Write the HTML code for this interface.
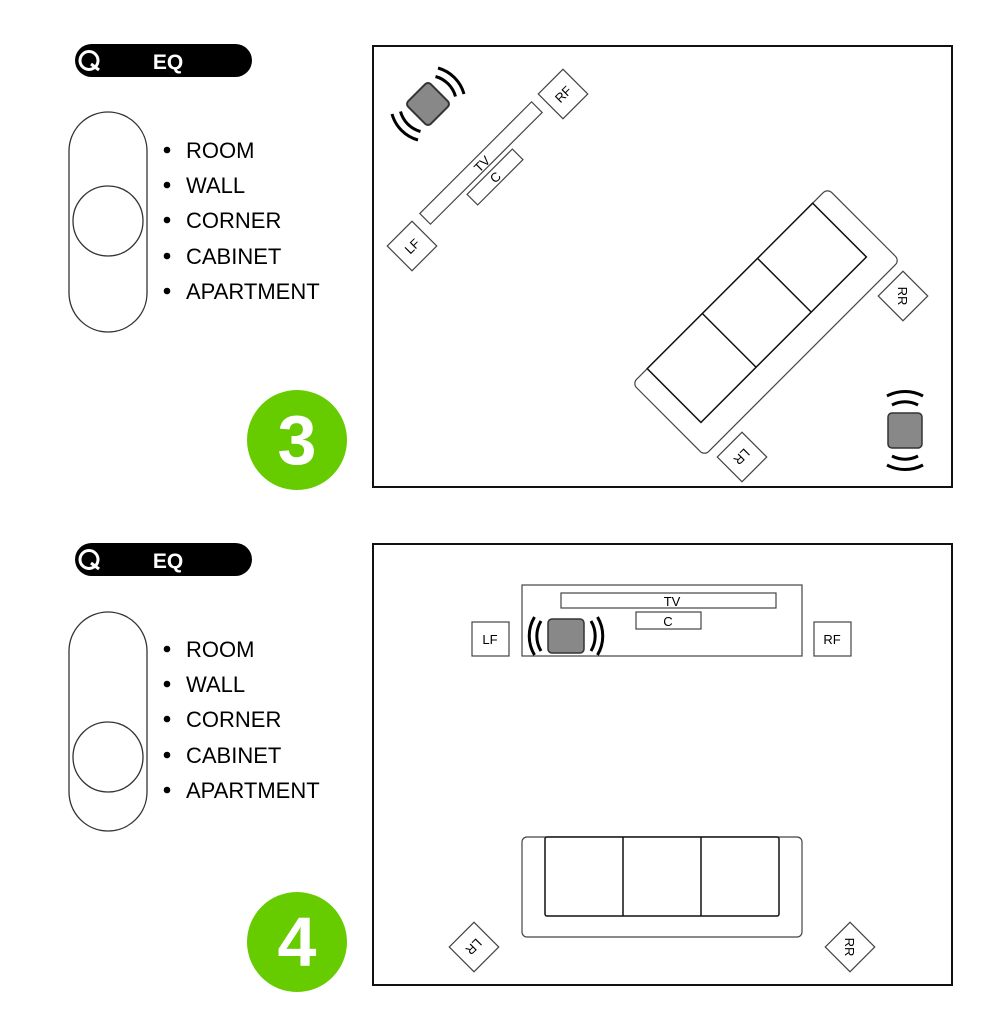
<!DOCTYPE html>
<html><head><meta charset="utf-8"><style>
html,body{margin:0;padding:0;background:#fff;}
svg{display:block;}
text{font-family:"Liberation Sans",sans-serif;}
</style></head><body>
<svg width="1000" height="1024" viewBox="0 0 1000 1024" xmlns="http://www.w3.org/2000/svg">
<defs>
<g id="panel">
  <rect x="75" y="44" width="177" height="33" rx="16.5" fill="#000"/>
  <circle cx="89" cy="60.5" r="9" fill="none" stroke="#fff" stroke-width="3"/>
  <path d="M91 64 L99 70" stroke="#fff" stroke-width="3"/>
  <text x="168" y="69" font-size="21" font-weight="bold" fill="#fff" text-anchor="middle">EQ</text>
  <g font-size="22" fill="#000">
    <circle cx="167" cy="150" r="3.3"/><text x="186" y="158">ROOM</text>
    <circle cx="167" cy="185" r="3.3"/><text x="186" y="193">WALL</text>
    <circle cx="167" cy="220" r="3.3"/><text x="186" y="228">CORNER</text>
    <circle cx="167" cy="256" r="3.3"/><text x="186" y="264">CABINET</text>
    <circle cx="167" cy="291" r="3.3"/><text x="186" y="299">APARTMENT</text>
  </g>
</g>
<g id="sofaT">
  <rect x="-138" y="-51" width="276" height="102" rx="6" fill="#fff" stroke="#444" stroke-width="1.2"/>
  <rect x="-117" y="-51" width="234" height="76" fill="#fff" stroke="#111" stroke-width="1.5"/>
  <line x1="-39" y1="-51" x2="-39" y2="25" stroke="#111" stroke-width="1.5"/>
  <line x1="39" y1="-51" x2="39" y2="25" stroke="#111" stroke-width="1.5"/>
</g>
</defs>

<!-- Section 3 -->
<use href="#panel"/>
<rect x="69" y="112" width="78" height="220" rx="39" fill="none" stroke="#333" stroke-width="1.3"/>
<circle cx="108" cy="221" r="35" fill="none" stroke="#333" stroke-width="1.3"/>
<circle cx="297" cy="440" r="50" fill="#66cc00"/>
<text x="297" y="464" font-size="70" font-weight="bold" fill="#fff" text-anchor="middle">3</text>

<rect x="373" y="46" width="579" height="441" fill="none" stroke="#111" stroke-width="2"/>
<g transform="translate(481,163) rotate(-45)">
  <rect x="-79" y="-7.5" width="158" height="15" fill="#fff" stroke="#444" stroke-width="1.2"/>
  <text x="0" y="6" font-size="13" text-anchor="middle">TV</text>
</g>
<g transform="translate(495,177) rotate(-45)">
  <rect x="-32" y="-7.5" width="64" height="15" fill="#fff" stroke="#444" stroke-width="1.2"/>
  <text x="0" y="5" font-size="13" text-anchor="middle">C</text>
</g>
<g transform="translate(563,94) rotate(-45)">
  <rect x="-17.5" y="-17.5" width="35" height="35" fill="#fff" stroke="#444" stroke-width="1.2"/>
  <text x="0" y="5" font-size="13" text-anchor="middle">RF</text>
</g>
<g transform="translate(412,246) rotate(-45)">
  <rect x="-17.5" y="-17.5" width="35" height="35" fill="#fff" stroke="#444" stroke-width="1.2"/>
  <text x="0" y="5" font-size="13" text-anchor="middle">LF</text>
</g>
<g transform="translate(428,104)">
  <rect x="-16" y="-16" width="32" height="32" rx="4" fill="#888" stroke="#333" stroke-width="2" transform="rotate(45)"/>
  <g fill="none" stroke="#000" stroke-width="3">
    <path d="M7.5 -27.5 A28.5 28.5 0 0 1 27.5 -7.5"/>
    <path d="M10 -36 A37.4 37.4 0 0 1 36 -10"/>
    <path d="M-7.5 27.5 A28.5 28.5 0 0 1 -27.5 7.5"/>
    <path d="M-10 36 A37.4 37.4 0 0 1 -36 10"/>
  </g>
</g>
<use href="#sofaT" transform="translate(766,322) rotate(-45)"/>
<g transform="translate(903,296) rotate(45)">
  <rect x="-17.5" y="-17.5" width="35" height="35" fill="#fff" stroke="#444" stroke-width="1.2"/>
  <text x="0" y="5" font-size="13" text-anchor="middle" transform="rotate(45)">RR</text>
</g>
<g transform="translate(742,457) rotate(45)">
  <rect x="-17.5" y="-17.5" width="35" height="35" fill="#fff" stroke="#444" stroke-width="1.2"/>
  <text x="0" y="5" font-size="13" text-anchor="middle" transform="rotate(90)">LR</text>
</g>
<g transform="translate(905,430)">
  <rect x="-17" y="-17" width="34" height="35" rx="4" fill="#888" stroke="#333" stroke-width="1.5"/>
  <g fill="none" stroke="#000" stroke-width="3">
    <path d="M-13 -25 A28 28 0 0 1 13 -25"/>
    <path d="M-18 -34 A38 38 0 0 1 18 -34"/>
    <path d="M13 26 A28 28 0 0 1 -13 26"/>
    <path d="M18 35 A38 38 0 0 1 -18 35"/>
  </g>
</g>

<!-- Section 4 -->
<use href="#panel" transform="translate(0,499)"/>
<rect x="69" y="612" width="78" height="219" rx="39" fill="none" stroke="#333" stroke-width="1.3"/>
<circle cx="108" cy="757" r="35" fill="none" stroke="#333" stroke-width="1.3"/>
<circle cx="297" cy="942" r="50" fill="#66cc00"/>
<text x="297" y="966" font-size="70" font-weight="bold" fill="#fff" text-anchor="middle">4</text>

<rect x="373" y="544" width="579" height="441" fill="none" stroke="#111" stroke-width="2"/>
<rect x="522" y="585" width="280" height="71" fill="#fff" stroke="#444" stroke-width="1.2"/>
<rect x="561" y="593" width="215" height="15" fill="#fff" stroke="#444" stroke-width="1.2"/>
<text x="672" y="606" font-size="13" text-anchor="middle">TV</text>
<rect x="636" y="612" width="65" height="17" fill="#fff" stroke="#444" stroke-width="1.2"/>
<text x="668" y="626" font-size="13" text-anchor="middle">C</text>
<rect x="472" y="622" width="37" height="34" fill="#fff" stroke="#444" stroke-width="1.2"/>
<text x="490" y="644" font-size="13" text-anchor="middle">LF</text>
<rect x="814" y="622" width="37" height="34" fill="#fff" stroke="#444" stroke-width="1.2"/>
<text x="832" y="644" font-size="13" text-anchor="middle">RF</text>
<g transform="translate(566,636)">
  <rect x="-18" y="-17" width="36" height="34" rx="4" fill="#888" stroke="#333" stroke-width="1.5"/>
  <g fill="none" stroke="#000" stroke-width="3">
    <path d="M-25 -15 A29 29 0 0 0 -25 15"/>
    <path d="M-31.5 -19 A37 37 0 0 0 -31.5 19"/>
    <path d="M25 -15 A29 29 0 0 1 25 15"/>
    <path d="M31.5 -19 A37 37 0 0 1 31.5 19"/>
  </g>
</g>
<rect x="522" y="837" width="280" height="100" rx="5" fill="#fff" stroke="#444" stroke-width="1.2"/>
<rect x="545" y="837" width="234" height="79" rx="2" fill="#fff" stroke="#111" stroke-width="1.5"/>
<line x1="623" y1="837" x2="623" y2="916" stroke="#111" stroke-width="1.5"/>
<line x1="701" y1="837" x2="701" y2="916" stroke="#111" stroke-width="1.5"/>
<g transform="translate(474,947) rotate(45)">
  <rect x="-17.5" y="-17.5" width="35" height="35" fill="#fff" stroke="#444" stroke-width="1.2"/>
  <text x="0" y="5" font-size="13" text-anchor="middle" transform="rotate(90)">LR</text>
</g>
<g transform="translate(850,947) rotate(45)">
  <rect x="-17.5" y="-17.5" width="35" height="35" fill="#fff" stroke="#444" stroke-width="1.2"/>
  <text x="0" y="5" font-size="13" text-anchor="middle" transform="rotate(45)">RR</text>
</g>
</svg>
</body></html>
